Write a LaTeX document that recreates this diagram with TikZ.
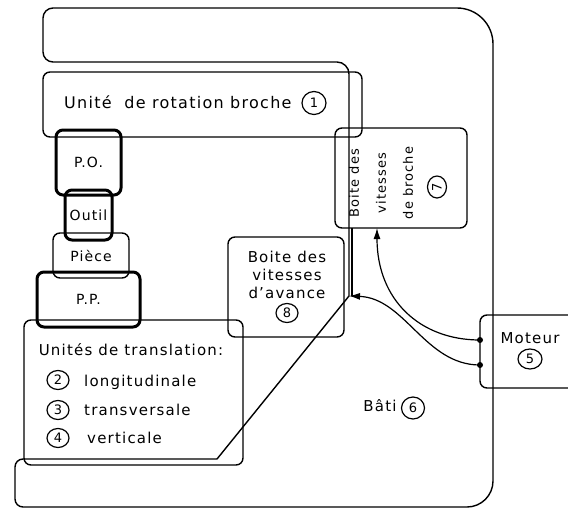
\documentclass[tikz,border=0pt]{standalone}
\usepackage{fontspec}
\setmainfont[LetterSpace=8]{DejaVu Sans}
\usetikzlibrary{arrows.meta,shapes.geometric}
\begin{document}
\begin{tikzpicture}[x=1pt,y=-1pt,line join=round,
  frame/.style={draw,line width=1.4pt},
  txt/.style={font=\fontsize{15}{19}\selectfont,inner sep=0pt},
  box/.style={draw,rounded corners=7pt,line width=1.4pt,inner sep=0pt,txt,align=center},
  heavybox/.style={box,line width=3pt},
  cnum/.style={ellipse,draw,line width=1.2pt,inner sep=0pt,minimum width=22pt,minimum height=19pt,font=\fontsize{13}{13}\selectfont},
  tip/.style={-{Latex[length=11pt,width=7pt]}},
  dot/.style={circle,fill,inner sep=0pt,minimum size=6pt}]
\useasboundingbox (0,0) rectangle (568,509);
% Bati frame
\draw[frame] (217,459) [rounded corners=8pt] -- (15,459) -- (15,507)
  [rounded corners=26pt] -- (493,507) [rounded corners=36pt] -- (493,8)
  [rounded corners=10pt] -- (43,8) -- (43,62) [rounded corners=12pt] -- (349,62)
  [sharp corners] -- (349,296) -- cycle;
\node[txt] (bati) at (380,406) {Bâti};
\node[cnum,minimum width=23pt,minimum height=22pt] (n6) at (413,408) {6};
% spindle unit
\node[box,minimum width=319pt,minimum height=65pt] (unite) at (202.5,104.5) {};
\node[txt,anchor=west,font=\fontsize{16}{19}\selectfont] (unitet) at (64,102) {Unité\ \ de rotation broche};
\node[cnum,minimum width=24pt,minimum height=23pt] (n1) at (314,103) {1};
% left stack
\node[heavybox,minimum width=65pt,minimum height=65pt,font=\fontsize{14}{17}\selectfont] (po) at (88.5,162.5) {P.O.};
\node[heavybox,minimum width=47pt,minimum height=50pt,font=\fontsize{14}{17}\selectfont] (outil) at (88.5,215) {Outil};
\node[box,minimum width=76pt,minimum height=45pt,font=\fontsize{14}{17}\selectfont] (piece) at (91,255.5) {Pièce};
\node[heavybox,minimum width=103pt,minimum height=55pt,font=\fontsize{14}{17}\selectfont] (pp) at (88.5,299.5) {P.P.};
% translation units
\node[box,minimum width=219pt,minimum height=145pt] (unites) at (133.5,392.5) {};
\node[txt] (ut) at (131,350) {Unités de translation:};
\node[cnum] (n2) at (58,380) {2};
\node[txt,anchor=west] (l2) at (84,382) {longitudinale};
\node[cnum] (n3) at (58,410) {3};
\node[txt,anchor=west] (l3) at (84,410) {transversale};
\node[cnum] (n4) at (58,438) {4};
\node[txt,anchor=west] (l4) at (87,438) {verticale};
% feed gearbox
\node[box,minimum width=116pt,minimum height=100pt] (b8) at (286,287) {};
\node[txt,align=center,font=\fontsize{15}{18}\selectfont] (b8t) at (287,275) {Boite des\\vitesses\\d’avance};
\node[cnum] (n8) at (287,313) {8};
% spindle gearbox
\node[box,minimum width=132pt,minimum height=100pt] (b7) at (401,178) {};
\node[txt,rotate=90,align=center,font=\fontsize{13}{27}\selectfont] (b7t) at (381,183)
  {Boite des\\vitesses\\de broche};
\node[cnum,rotate=90] (n7) at (437,187) {7};
% motor
\node[txt] (moteur) at (530,338) {Moteur};
\node[cnum,minimum width=24pt,minimum height=20pt] (n5) at (530,359) {5};
\draw[frame,rounded corners=7pt] (568,315) -- (480,315) -- (480,388) -- (568,388);
% connectors
\coordinate (m1) at (480,340);
\coordinate (m2) at (480,365);
\coordinate (a7) at (377,228);
\coordinate (s7) at (352,228);
\coordinate (j) at (349,296);
\node[dot] (d1) at (m1) {};
\node[dot] (d2) at (m2) {};
\draw[frame,line width=1.2pt,tip] (d1.center) .. controls (420,340) and (377,300) .. (a7);
\draw[frame,line width=1.2pt,tip] (d2.center) .. controls (425,365) and (405,298) .. (j);
\draw[frame] (s7) -- (352,296);
\end{tikzpicture}
\end{document}
